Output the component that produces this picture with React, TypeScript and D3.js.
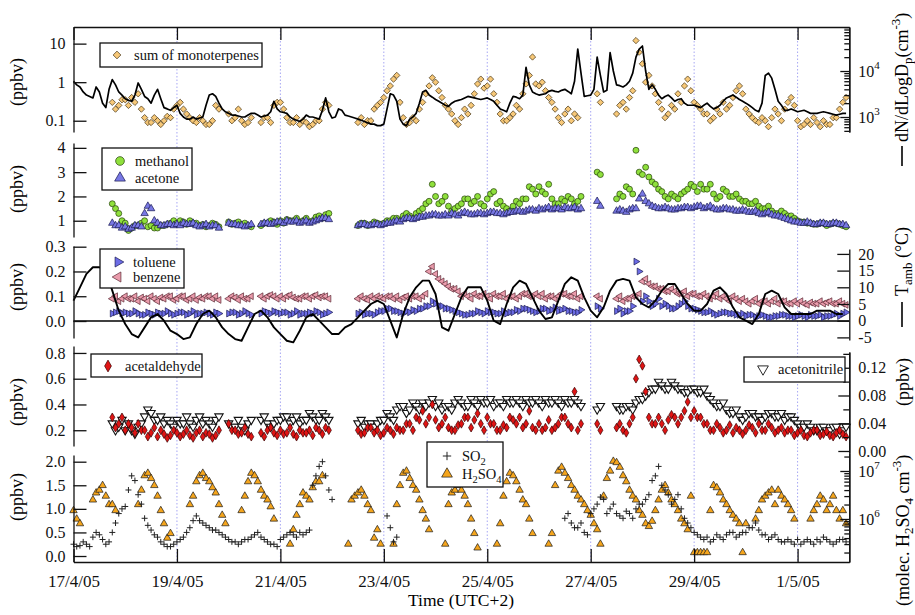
import { useEffect, useRef } from "react";
import * as d3 from "d3";

const N = null;
const FONT = "'Liberation Serif','Times New Roman',Times,serif";

// values every 3 h from 17/4/05 00:00 (rows = days, 8 values per day);
// the "B" arrays are the second reading of each cloud, 1.5 h later
const START = new Date(2005, 3, 17, 0);
const END = new Date(2005, 4, 2, 0);
const STEP_H = 3;

const dateTicks = [
  new Date(2005, 3, 17), new Date(2005, 3, 19), new Date(2005, 3, 21), new Date(2005, 3, 23),
  new Date(2005, 3, 25), new Date(2005, 3, 27), new Date(2005, 3, 29), new Date(2005, 4, 1),
];
const dateLabels = ["17/4/05", "19/4/05", "21/4/05", "23/4/05", "25/4/05", "27/4/05", "29/4/05", "1/5/05"];

// panel 1: sum of monoterpenes (ppbv), particle number dN/dLogDp (cm-3)
const monoterpenes = [
  N, N, N, N, N, N, 0.3, 0.25,
  0.35, 0.4, 0.5, 0.12, 0.09, 0.1, 0.1, 0.12,
  0.25, 0.2, 0.12, 0.09, 0.1, 0.08, 0.25, N,
  0.15, 0.12, 0.1, 0.09, N, 0.09, 0.12, 0.25,
  0.3, 0.12, 0.09, 0.08, 0.09, 0.08, 0.1, 0.3,
  N, N, N, N, 0.09, 0.08, 0.1, 0.25,
  0.4, 0.8, 1.5, 0.12, 0.09, 0.1, 0.3, 0.8,
  1.0, 0.4, 0.2, 0.1, 0.12, 0.15, 0.5, 1.2,
  0.8, 0.5, 0.15, 0.1, 0.15, 0.2, 0.9, 4.5,
  0.8, 0.6, 0.3, 0.12, 0.15, 0.1, 0.12, N,
  N, 0.5, N, N, 0.15, 0.3, 0.4, 12,
  3, 1.5, 0.5, 0.2, 0.15, 0.2, 0.3, 1.2,
  0.3, 0.2, 0.15, 0.12, 0.15, 0.2, 0.4, 0.8,
  0.2, 0.12, 0.09, 0.1, 0.12, 0.15, 0.2, 0.4,
  0.1, 0.08, 0.08, 0.09, 0.1, 0.08, 0.12, 0.3,
];
const monoterpenesB = [
  N, N, N, N, N, N, 0.2, 0.35,
  0.25, 0.3, 0.2, 0.09, 0.12, 0.08, 0.13, 0.2,
  0.3, 0.15, 0.1, 0.12, 0.08, 0.1, 0.2, N,
  0.1, 0.2, 0.08, 0.12, N, 0.12, 0.09, 0.3,
  0.2, 0.09, 0.12, 0.1, 0.07, 0.1, 0.2, 0.25,
  N, N, N, N, 0.12, 0.1, 0.2, 0.3,
  0.6, 1.2, 0.3, 0.08, 0.12, 0.2, 0.5, 1.3,
  0.6, 0.25, 0.15, 0.08, 0.2, 0.25, 0.9, 0.7,
  1.2, 0.3, 0.1, 0.12, 0.25, 0.5, 1.5, 0.9,
  1.0, 0.4, 0.2, 0.09, 0.2, 0.15, N, N,
  N, 0.3, N, N, 0.25, 0.2, 0.6, 6,
  1.0, 0.8, 0.3, 0.12, 0.25, 0.5, 0.8, 0.6,
  0.25, 0.15, 0.1, 0.2, 0.3, 0.25, 0.6, 0.5,
  0.15, 0.1, 0.12, 0.07, 0.2, 0.1, 0.3, 0.25,
  0.07, 0.1, 0.12, 0.07, 0.08, 0.12, 0.2, 0.4,
];
const particles = [
  6000, 4500, 3000, 2600, 3500, 1600, 6500, 3500,
  2500, 2200, 5500, 2800, 2000, 4000, 1600, 1400,
  1800, 1000, 900, 900, 1000, 3000, 2800, 1500,
  1200, 1100, 1000, 1100, 1200, 1000, 1100, 2200,
  1300, 1200, 900, 800, 1100, 1000, 900, 2600,
  950, 1500, 1100, 1000, 900, 800, 700, 650,
  700, 3200, 2200, 700, 900, 1200, 3500, 3000,
  2400, 2000, 1700, 2200, 2400, 2800, 2600, 2400,
  2600, 2200, 1500, 1300, 2800, 2500, 12000, 3500,
  3000, 3200, 3800, 3500, 4000, 3200, 30000, 2800,
  3000, 20000, 3500, 25000, 5000, 4500, 6000, 20000,
  35000, 4000, 4000, 2500, 3000, 2200, 2500, 1800,
  1800, 1600, 2000, 1500, 1800, 2600, 3000, 2400,
  2000, 1600, 1300, 8000, 7000, 2200, 1400, 1500,
  1300, 1400, 1200, 1200, 1300, 1200, 1100, 1200,
];
const particlesB = [
  5000, 3500, 2800, 4500, 2000, 4000, 5000, 3000,
  2300, 3000, 4000, 2500, 3000, 2500, 1500, 1600,
  1200, 900, 1000, 950, 1800, 3200, 2000, 1300,
  1100, 1050, 1000, 1200, 1100, 1050, 1300, 1500,
  1250, 1000, 850, 900, 1000, 950, 1400, 1300,
  1000, 1400, 1050, 950, 850, 750, 700, 650,
  1500, 3000, 900, 650, 1000, 2000, 3800, 2700,
  2200, 1800, 2000, 2300, 2600, 2700, 2500, 2500,
  2400, 1800, 1400, 2000, 2700, 3000, 5000, 3200,
  3100, 3600, 3600, 3800, 3600, 6000, 9000, 2900,
  4000, 8000, 3800, 10000, 4800, 5000, 9000, 30000,
  10000, 5000, 3000, 2800, 2600, 2400, 2000, 1800,
  1700, 1800, 1700, 1600, 2200, 2800, 2700, 2200,
  1800, 1400, 2000, 9000, 4000, 1800, 1400, 1400,
  1350, 1300, 1200, 1250, 1250, 1150, 1150, 1200,
];

// panel 2: methanol, acetone (ppbv)
const methanol = [
  N, N, N, N, N, N, 1.7, 1.3,
  0.9, 0.7, 0.8, 1.0, 0.8, 0.7, 0.8, 0.9,
  0.9, 0.95, 1.0, 0.9, 0.85, 0.8, 0.85, N,
  0.95, 0.9, 0.85, 0.8, N, 0.8, 0.9, 0.95,
  1.0, 1.05, 1.0, 0.95, 1.1, 1.0, 1.2, 1.25,
  N, N, N, N, 0.8, 0.9, 0.85, 0.9,
  0.9, 1.0, 1.1, 1.2, 1.2, 1.3, 1.5, 1.8,
  2.0, 1.8, 1.6, 1.5, 1.7, 1.9, 1.8, 1.7,
  1.9, 2.2, 1.8, 1.5, 1.6, 1.7, 1.9, 2.3,
  2.4, 2.1, 1.9, 1.7, 1.8, 1.9, 1.8, N,
  N, 3.0, N, N, 1.9, 2.0, 2.3, 3.9,
  2.9, 2.8, 2.5, 2.2, 1.9, 2.0, 2.1, 2.3,
  2.4, 2.5, 2.3, 2.1, 2.0, 2.2, 2.0, 1.9,
  1.8, 1.7, 1.6, 1.5, 1.4, 1.3, 1.3, 1.2,
  1.0, 0.95, 0.9, 0.85, 0.9, 0.85, 0.9, 0.8,
];
const methanolB = [
  N, N, N, N, N, N, 1.5, 1.0,
  0.6, 0.8, 0.9, 0.75, 0.7, 0.8, 0.85, 1.0,
  1.0, 0.85, 0.9, 0.8, 0.75, 0.9, 0.75, N,
  0.85, 0.95, 0.9, 0.75, N, 0.9, 1.0, 0.85,
  0.9, 1.0, 1.1, 1.0, 0.95, 1.15, 1.1, 1.3,
  N, N, N, N, 0.9, 0.8, 0.95, 0.85,
  1.0, 1.1, 1.0, 1.3, 1.1, 1.4, 1.7, 2.5,
  1.7, 2.0, 1.4, 1.6, 1.9, 1.7, 2.0, 1.6,
  2.1, 1.7, 1.6, 1.4, 1.8, 1.9, 2.4, 2.1,
  2.2, 2.5, 1.7, 1.9, 2.0, 1.7, 2.0, N,
  N, 2.9, N, N, 2.1, 2.4, 2.1, 3.0,
  3.2, 2.6, 2.3, 2.0, 2.1, 1.9, 2.2, 2.5,
  2.2, 2.3, 2.5, 1.9, 2.3, 2.0, 2.1, 1.8,
  1.7, 1.8, 1.5, 1.6, 1.3, 1.4, 1.2, 1.1,
  0.95, 0.9, 0.85, 0.9, 0.8, 0.9, 0.85, 0.75,
];
const acetone = [
  N, N, N, N, N, N, 0.9, 0.8,
  0.75, 0.7, 0.8, 1.3, 1.5, 0.9, 0.8, 0.85,
  0.85, 0.9, 0.85, 0.8, 0.8, 0.75, 0.8, N,
  0.9, 0.85, 0.8, 0.8, N, 0.85, 0.9, 0.9,
  0.95, 1.0, 0.95, 0.9, 1.0, 0.95, 1.05, 1.1,
  N, N, N, N, 0.8, 0.85, 0.8, 0.85,
  0.85, 0.9, 1.0, 1.05, 1.1, 1.1, 1.15, 1.2,
  1.25, 1.2, 1.2, 1.25, 1.3, 1.3, 1.25, 1.3,
  1.3, 1.35, 1.3, 1.3, 1.35, 1.4, 1.4, 1.45,
  1.5, 1.5, 1.45, 1.5, 1.55, 1.5, 1.45, N,
  N, 1.8, N, N, 1.4, 1.4, 1.45, 1.5,
  2.1, 1.7, 1.55, 1.5, 1.5, 1.45, 1.5, 1.55,
  1.55, 1.6, 1.55, 1.5, 1.45, 1.5, 1.45, 1.4,
  1.4, 1.35, 1.3, 1.3, 1.25, 1.2, 1.1, 1.0,
  0.95, 0.9, 0.9, 0.85, 0.9, 0.85, 0.9, 0.85,
];
const acetoneB = [
  N, N, N, N, N, N, 0.8, 0.7,
  0.65, 0.8, 0.75, 1.6, 1.0, 0.8, 0.85, 0.8,
  0.8, 0.85, 0.9, 0.75, 0.85, 0.8, 0.7, N,
  0.85, 0.8, 0.75, 0.85, N, 0.9, 0.85, 0.95,
  0.9, 0.95, 1.0, 0.95, 0.9, 1.0, 1.1, 1.05,
  N, N, N, N, 0.85, 0.8, 0.85, 0.8,
  0.9, 0.95, 0.95, 1.1, 1.05, 1.15, 1.2, 1.25,
  1.2, 1.25, 1.3, 1.2, 1.35, 1.25, 1.3, 1.25,
  1.35, 1.3, 1.25, 1.35, 1.4, 1.35, 1.45, 1.4,
  1.45, 1.55, 1.5, 1.45, 1.5, 1.55, 1.5, N,
  N, 1.6, N, N, 1.45, 1.35, 1.5, 1.9,
  1.8, 1.6, 1.5, 1.55, 1.45, 1.5, 1.55, 1.5,
  1.6, 1.5, 1.6, 1.45, 1.5, 1.45, 1.4, 1.45,
  1.35, 1.4, 1.25, 1.35, 1.2, 1.15, 1.05, 0.95,
  0.9, 0.95, 0.85, 0.9, 0.85, 0.9, 0.85, 0.8,
];

// panel 3: toluene, benzene (ppbv), ambient temperature (°C)
const toluene = [
  N, N, N, N, N, N, 0.03, 0.04,
  0.035, 0.03, 0.03, 0.025, 0.03, 0.035, 0.03, 0.03,
  0.03, 0.035, 0.03, 0.025, 0.03, 0.03, 0.035, N,
  0.03, 0.035, 0.03, 0.03, N, 0.03, 0.035, 0.04,
  0.03, 0.035, 0.03, 0.025, 0.03, 0.03, 0.035, 0.03,
  N, N, N, N, 0.03, 0.025, 0.03, 0.035,
  0.04, 0.05, 0.04, 0.03, 0.035, 0.04, 0.05, 0.06,
  0.07, 0.06, 0.05, 0.04, 0.03, 0.025, 0.03, 0.035,
  0.04, 0.035, 0.03, 0.03, 0.035, 0.04, 0.05, 0.04,
  0.04, 0.05, 0.045, 0.04, 0.05, 0.04, 0.035, N,
  N, 0.06, N, N, 0.04, 0.03, 0.04, 0.24,
  0.08, 0.08, 0.07, 0.06, 0.06, 0.05, 0.07, 0.06,
  0.05, 0.04, 0.035, 0.03, 0.03, 0.035, 0.03, 0.025,
  0.02, 0.025, 0.02, 0.02, 0.015, 0.02, 0.025, 0.02,
  0.02, 0.02, 0.025, 0.02, 0.015, 0.02, 0.03, 0.03,
];
const tolueneB = [
  N, N, N, N, N, N, 0.035, 0.03,
  0.03, 0.04, 0.025, 0.035, 0.025, 0.03, 0.04, 0.025,
  0.035, 0.025, 0.04, 0.03, 0.035, 0.025, 0.03, N,
  0.035, 0.025, 0.04, 0.025, N, 0.04, 0.03, 0.035,
  0.035, 0.025, 0.04, 0.03, 0.035, 0.04, 0.025, 0.035,
  N, N, N, N, 0.035, 0.03, 0.025, 0.04,
  0.05, 0.04, 0.035, 0.04, 0.045, 0.05, 0.06, 0.08,
  0.06, 0.05, 0.045, 0.035, 0.025, 0.03, 0.04, 0.03,
  0.035, 0.03, 0.04, 0.035, 0.045, 0.05, 0.045, 0.035,
  0.05, 0.04, 0.055, 0.045, 0.04, 0.035, 0.045, N,
  N, 0.05, N, N, 0.05, 0.04, 0.06, 0.2,
  0.1, 0.06, 0.09, 0.07, 0.05, 0.06, 0.08, 0.05,
  0.045, 0.035, 0.04, 0.025, 0.035, 0.03, 0.025, 0.03,
  0.025, 0.015, 0.025, 0.015, 0.02, 0.025, 0.02, 0.015,
  0.025, 0.015, 0.02, 0.025, 0.02, 0.025, 0.02, 0.035,
];
const benzene = [
  N, N, N, N, N, N, 0.09, 0.08,
  0.1, 0.09, 0.08, 0.09, 0.1, 0.08, 0.09, 0.1,
  0.09, 0.1, 0.09, 0.085, 0.09, 0.1, 0.1, N,
  0.09, 0.095, 0.1, 0.09, N, 0.1, 0.1, 0.1,
  0.1, 0.1, 0.095, 0.09, 0.1, 0.1, 0.095, 0.1,
  N, N, N, N, 0.09, 0.09, 0.1, 0.1,
  0.09, 0.1, 0.1, 0.095, 0.09, 0.1, 0.1, 0.2,
  0.19, 0.16, 0.14, 0.13, 0.1, 0.1, 0.11, 0.1,
  0.1, 0.11, 0.1, 0.09, 0.1, 0.1, 0.11, 0.1,
  0.1, 0.09, 0.1, 0.1, 0.11, 0.1, 0.09, N,
  N, 0.1, N, N, 0.09, 0.08, 0.09, 0.1,
  0.16, 0.15, 0.14, 0.13, 0.12, 0.12, 0.11, 0.1,
  0.11, 0.1, 0.1, 0.1, 0.09, 0.09, 0.1, 0.08,
  0.08, 0.08, 0.07, 0.08, 0.08, 0.07, 0.08, 0.07,
  0.07, 0.07, 0.075, 0.07, 0.07, 0.08, 0.07, 0.07,
];
const benzeneB = [
  N, N, N, N, N, N, 0.1, 0.09,
  0.09, 0.1, 0.095, 0.08, 0.09, 0.095, 0.1, 0.085,
  0.1, 0.085, 0.1, 0.095, 0.1, 0.09, 0.085, N,
  0.1, 0.085, 0.09, 0.1, N, 0.09, 0.105, 0.09,
  0.09, 0.105, 0.09, 0.1, 0.09, 0.105, 0.1, 0.09,
  N, N, N, N, 0.1, 0.085, 0.09, 0.095,
  0.1, 0.09, 0.085, 0.1, 0.1, 0.09, 0.11, 0.22,
  0.17, 0.15, 0.13, 0.12, 0.11, 0.09, 0.1, 0.11,
  0.09, 0.1, 0.11, 0.1, 0.09, 0.11, 0.1, 0.11,
  0.11, 0.1, 0.09, 0.11, 0.1, 0.11, 0.1, N,
  N, 0.09, N, N, 0.1, 0.09, 0.1, 0.11,
  0.17, 0.14, 0.13, 0.12, 0.13, 0.11, 0.12, 0.11,
  0.1, 0.11, 0.09, 0.11, 0.1, 0.08, 0.09, 0.09,
  0.07, 0.09, 0.08, 0.07, 0.09, 0.08, 0.07, 0.08,
  0.08, 0.065, 0.07, 0.08, 0.075, 0.07, 0.08, 0.065,
];
const tAmb = [
  6, 10, 14, 16, 16, 15, 9, 3,
  -1, -4, -5, -2, 1, 2, 0, -3,
  -4, -5.5, -5, -1, 2, 3, 1, -2,
  -4, -5.5, -6, -2, 2, 3, 1, -2,
  -4, -6, -6.5, -3, 1, 2, 0, -2,
  -4, -4, -2, -1, 1, 3, 5, 6,
  5, 0, -5, 2, 7, 10, 12, 12,
  8, -2, -3, 2, 7, 10, 10, 10,
  6, 0, -1, 5, 10, 12, 11, 7,
  3, 0.5, 1, 6, 11, 13, 12, 7,
  3, 1, 4, 9, 12, 12.5, 12, 7,
  5, 4, 6, 9, 11, 11, 8, 5,
  3, 3, 5, 9, 10, 8, 4, 1,
  0, -1, 2, 8, 9, 8, 4, 2,
  2, 2, 2, 3, 3, 3, 2, 2,
];

// panel 4: acetaldehyde (ppbv, left), acetonitrile (ppbv, right)
const acetaldehyde = [
  N, N, N, N, N, N, 0.3, 0.25,
  0.2, 0.22, 0.25, 0.2, 0.18, 0.15, 0.17, 0.16,
  0.18, 0.17, 0.16, 0.18, 0.15, 0.17, 0.16, N,
  0.25, 0.2, 0.18, 0.17, N, 0.18, 0.2, 0.18,
  0.2, 0.18, 0.17, 0.2, 0.18, 0.16, 0.2, 0.22,
  N, N, N, N, 0.2, 0.18, 0.22, 0.2,
  0.18, 0.2, 0.22, 0.2, 0.25, 0.3, 0.35, 0.3,
  0.28, 0.25, 0.22, 0.2, 0.25, 0.3, 0.28, 0.25,
  0.3, 0.25, 0.2, 0.22, 0.28, 0.3, 0.25, 0.22,
  0.25, 0.22, 0.2, 0.25, 0.3, 0.22, 0.2, N,
  N, 0.25, N, N, 0.22, 0.2, 0.25, 0.6,
  0.7, 0.3, 0.25, 0.25, 0.28, 0.3, 0.3, 0.42,
  0.35, 0.3, 0.25, 0.2, 0.22, 0.2, 0.18, 0.2,
  0.2, 0.22, 0.25, 0.2, 0.22, 0.2, 0.18, 0.2,
  0.18, 0.16, 0.18, 0.2, 0.17, 0.16, 0.18, 0.17,
];
const acetaldehydeB = [
  N, N, N, N, N, N, 0.22, 0.3,
  0.25, 0.18, 0.2, 0.15, 0.22, 0.2, 0.14, 0.2,
  0.15, 0.2, 0.14, 0.2, 0.18, 0.14, 0.2, N,
  0.2, 0.17, 0.22, 0.15, N, 0.15, 0.22, 0.16,
  0.17, 0.22, 0.15, 0.18, 0.2, 0.22, 0.17, 0.2,
  N, N, N, N, 0.17, 0.22, 0.18, 0.16,
  0.22, 0.17, 0.2, 0.25, 0.2, 0.28, 0.25, 0.4,
  0.22, 0.3, 0.2, 0.24, 0.3, 0.22, 0.33, 0.2,
  0.25, 0.2, 0.24, 0.3, 0.25, 0.22, 0.35, 0.2,
  0.2, 0.28, 0.22, 0.3, 0.25, 0.5, 0.25, N,
  N, 0.2, N, N, 0.25, 0.18, 0.3, 0.75,
  0.5, 0.25, 0.3, 0.2, 0.32, 0.25, 0.35, 0.3,
  0.3, 0.25, 0.2, 0.25, 0.18, 0.24, 0.22, 0.17,
  0.24, 0.18, 0.2, 0.25, 0.18, 0.22, 0.2, 0.16,
  0.2, 0.15, 0.2, 0.16, 0.19, 0.15, 0.2, 0.15,
];
const acetonitrile = [
  N, N, N, N, N, N, 0.04, 0.035,
  0.03, 0.03, 0.035, 0.05, 0.055, 0.045, 0.04, 0.04,
  0.045, 0.04, 0.04, 0.045, 0.04, 0.04, 0.045, N,
  0.04, 0.035, 0.035, 0.04, N, 0.045, 0.04, 0.04,
  0.045, 0.05, 0.045, 0.04, 0.045, 0.05, 0.045, 0.05,
  N, N, N, N, 0.04, 0.035, 0.04, 0.04,
  0.045, 0.05, 0.06, 0.065, 0.06, 0.065, 0.07, 0.07,
  0.065, 0.06, 0.065, 0.07, 0.07, 0.065, 0.07, 0.075,
  0.07, 0.065, 0.07, 0.075, 0.07, 0.07, 0.075, 0.07,
  0.07, 0.075, 0.07, 0.07, 0.075, 0.07, 0.07, N,
  N, 0.06, N, N, 0.065, 0.06, 0.065, 0.07,
  0.075, 0.085, 0.09, 0.095, 0.09, 0.095, 0.09, 0.085,
  0.09, 0.085, 0.08, 0.07, 0.065, 0.06, 0.055, 0.05,
  0.05, 0.055, 0.05, 0.05, 0.055, 0.05, 0.045, 0.05,
  0.04, 0.035, 0.035, 0.03, 0.035, 0.03, 0.035, 0.03,
];
const acetonitrileB = [
  N, N, N, N, N, N, 0.03, 0.045,
  0.04, 0.025, 0.04, 0.06, 0.045, 0.05, 0.045, 0.035,
  0.04, 0.05, 0.035, 0.05, 0.045, 0.035, 0.05, N,
  0.035, 0.045, 0.03, 0.045, N, 0.05, 0.035, 0.045,
  0.05, 0.04, 0.05, 0.045, 0.055, 0.045, 0.055, 0.045,
  N, N, N, N, 0.045, 0.04, 0.035, 0.045,
  0.055, 0.045, 0.065, 0.055, 0.07, 0.06, 0.065, 0.075,
  0.07, 0.065, 0.06, 0.075, 0.065, 0.075, 0.065, 0.07,
  0.075, 0.07, 0.065, 0.07, 0.075, 0.065, 0.07, 0.075,
  0.065, 0.07, 0.075, 0.065, 0.07, 0.075, 0.065, N,
  N, 0.065, N, N, 0.06, 0.065, 0.06, 0.075,
  0.08, 0.09, 0.1, 0.09, 0.1, 0.09, 0.085, 0.09,
  0.085, 0.09, 0.075, 0.065, 0.07, 0.055, 0.06, 0.045,
  0.055, 0.05, 0.045, 0.055, 0.05, 0.055, 0.05, 0.045,
  0.035, 0.04, 0.03, 0.035, 0.03, 0.035, 0.025, 0.035,
];

// panel 5: SO2 (ppbv, left), H2SO4 (molec cm-3, right)
const so2 = [
  0.25, 0.22, 0.25, 0.4, 0.45, 0.25, 0.5, 0.9,
  1.05, 1.7, 1.3, 0.8, 0.55, 0.4, 0.25, 0.2,
  0.3, 0.4, 0.6, 0.85, 0.7, 0.6, 0.55, 0.45,
  0.35, 0.3, 0.3, 0.35, 0.45, 0.4, 0.3, 0.25,
  0.35, 0.45, 0.45, 0.5, 0.5, 1.5, 1.9, 1.7,
  1.2, N, N, N, N, N, N, N,
  N, 0.6, 0.4, N, N, N, N, N,
  N, N, N, N, N, N, N, N,
  N, N, N, N, N, N, N, N,
  N, N, N, N, 0.8, 0.7, 0.6, 0.5,
  0.9, 1.1, 1.2, 1.0, 0.9, 0.8, 0.9, 1.0,
  1.1, 1.3, 1.7, 1.5, 1.3, 1.2, 1.0, 0.7,
  0.5, 0.4, 0.4, 0.35, 0.4, 0.45, 0.5, 0.45,
  0.5, 0.6, 0.55, 0.45, 0.4, 0.35, 0.3, 0.3,
  0.35, 0.3, 0.3, 0.35, 0.4, 0.3, 0.3, 0.35,
];
const so2B = [
  0.2, 0.3, 0.2, 0.5, 0.35, 0.3, 0.7, 1.0,
  1.4, 1.6, 1.1, 0.65, 0.45, 0.3, 0.2, 0.25,
  0.35, 0.5, 0.75, 0.75, 0.65, 0.55, 0.5, 0.4,
  0.3, 0.25, 0.35, 0.4, 0.5, 0.35, 0.25, 0.2,
  0.4, 0.5, 0.4, 0.45, 0.55, 1.7, 2.0, 1.4,
  N, N, N, N, N, N, N, N,
  0.85, 0.3, N, N, N, N, N, N,
  N, N, N, N, N, N, N, N,
  N, N, N, N, N, N, N, N,
  N, N, N, N, 0.9, 0.6, 0.7, 0.45,
  1.0, 1.25, 0.9, 1.1, 0.85, 0.95, 0.8, 1.1,
  1.2, 1.6, 1.9, 1.4, 1.1, 1.3, 0.8, 0.6,
  0.45, 0.35, 0.3, 0.45, 0.35, 0.5, 0.4, 0.5,
  0.6, 0.7, 0.45, 0.35, 0.45, 0.3, 0.35, 0.25,
  0.25, 0.35, 0.25, 0.3, 0.35, 0.25, 0.35, 0.3,
];
const h2so4 = [
  1.5e6, 0.8e6, N, 2.5e6, 4e6, 3e6, 2e6, N,
  N, N, 2e6, 8e6, 7e6, 3e6, 0.8e6, 0.5e6,
  N, N, 2e6, 6e6, 9e6, 6e6, 3.5e6, 1.2e6,
  N, N, 1.5e6, 6e6, 8e6, 4e6, 2.5e6, 1e6,
  N, N, 0.6e6, 2e6, 3e6, 4.5e6, 6e6, N,
  N, N, N, 2.5e6, 3.5e6, 3e6, 1.5e6, 0.6e6,
  N, N, 2e6, 9e6, 7e6, 4e6, 1.5e6, 0.6e6,
  N, N, 2e6, 4e6, 4e6, 2e6, 0.5e6, N,
  N, N, 0.8e6, 6e6, 8e6, 4e6, 2e6, 0.5e6,
  N, N, 0.5e6, 10e6, 9e6, 5e6, 3e6, 2e6,
  1.2e6, 0.6e6, 3e6, 10e6, 15e6, 8e6, 4e6, 2.5e6,
  1.2e6, 0.7e6, 1.5e6, 4e6, 3.5e6, 2e6, 1e6, 0.6e6,
  0.2e6, 0.2e6, 0.2e6, 5e6, 3.5e6, 2e6, 1.2e6, 0.8e6,
  0.8e6, N, 1.5e6, 3e6, 4e6, 4e6, 2.5e6, 1.5e6,
  N, N, 1e6, 2e6, 2.5e6, 2e6, 1.5e6, 1.5e6,
];
const h2so4B = [
  1.0e6, N, N, 3.5e6, 5e6, 2e6, 1.5e6, N,
  N, N, 4e6, 9e6, 5e6, 1.5e6, 0.4e6, N,
  N, N, 3e6, 8e6, 7e6, 4.5e6, 2e6, 0.8e6,
  N, N, 3e6, 9e6, 6e6, 3e6, 1.8e6, N,
  N, 0.3e6, 1.2e6, 3.5e6, 2.5e6, 6e6, 8e6, N,
  N, N, 0.3e6, 3e6, 4e6, 2e6, 0.4e6, 0.3e6,
  N, 0.3e6, 5e6, 10e6, 5e6, 2.5e6, 1e6, N,
  N, 0.3e6, 3.5e6, 5e6, 3e6, 1e6, 0.25e6, N,
  N, 0.3e6, 3e6, 9e6, 6e6, 2.5e6, 1e6, N,
  N, 0.3e6, 5e6, 12e6, 7e6, 4e6, 2.5e6, 1.5e6,
  0.8e6, 0.3e6, 7e6, 16e6, 12e6, 6e6, 3e6, 1.5e6,
  0.8e6, 0.9e6, 2.5e6, 5e6, 2.5e6, 1.5e6, 0.8e6, 3e6,
  0.2e6, 0.2e6, 1.5e6, 4.5e6, 2.5e6, 1.5e6, 1e6, 0.2e6,
  N, 1e6, 2.5e6, 3.5e6, 2e6, 3e6, 2e6, 1e6,
  N, N, 1.5e6, 3e6, 1.5e6, 3e6, 1e6, 0.8e6,
];

const plusSymbol = {
  draw(ctx: any, size: number) {
    const r = Math.sqrt(size) / 2;
    ctx.moveTo(-r, 0); ctx.lineTo(r, 0);
    ctx.moveTo(0, -r); ctx.lineTo(0, r);
  },
};

type Pt = { t: Date; v: number };

export default function App() {
  const svgRef = useRef<SVGSVGElement>(null);

  useEffect(() => {
    const width = 915;
    const height = 615;
    const X0 = 73.5;
    const X1 = 849.3;

    const svg = d3.select(svgRef.current)
      .attr("width", width)
      .attr("height", height)
      .style("background", "#fff")
      .style("font-family", FONT);
    svg.selectAll("*").remove();

    const x = d3.scaleTime().domain([START, END]).range([X0, X1]);
    const series = (vals: (number | null)[], offsetMin = 0): Pt[] =>
      vals
        .map((v, i) => ({ t: d3.timeMinute.offset(START, i * STEP_H * 60 + offsetMin), v }))
        .filter((d) => d.v !== null) as Pt[];
    const both = (a: (number | null)[], b: (number | null)[]) =>
      series(a).concat(series(b, 90)).sort((p, q) => +p.t - +q.t);

    // scales
    const y1 = d3.scaleLog().domain([0.051, 27]).range([132, 27]);
    const y1r = d3.scaleLog().domain([472, 90600]).range([132, 27]);
    const y2 = d3.scaleLinear().domain([0.33, 4.2]).range([237, 143]);
    const y3 = d3.scaleLinear().domain([-0.0686, 0.3028]).range([338, 246]);
    const y3r = d3.scaleLinear().domain([-5.78, 21.47]).range([340, 249]);
    const y4 = d3.scaleLinear().domain([0.0776, 0.854]).range([446, 346]);
    const y4r = d3.scaleLinear().domain([-0.0029, 0.1427]).range([453, 352]);
    const y5 = d3.scaleLinear().domain([-0.127, 2.142]).range([562, 455]);
    const y5r = d3.scaleLog().domain([1.27e5, 2.37e7]).range([562, 453]);

    const axisStyle = (g: any, fs: number) => {
      g.attr("font-family", FONT).attr("font-size", fs);
      g.selectAll("path, line").attr("stroke", "#111").attr("stroke-width", 1.3);
      g.selectAll("text").attr("fill", "#111");
    };

    // vertical dotted day lines
    svg.append("g")
      .selectAll("line")
      .data(dateTicks.slice(1))
      .enter()
      .append("line")
      .attr("x1", (d) => x(d))
      .attr("x2", (d) => x(d))
      .attr("y1", 27)
      .attr("y2", 562)
      .attr("stroke", "#9c9cf2")
      .attr("stroke-width", 0.9)
      .attr("stroke-dasharray", "1.5,2");

    const markers = (data: Pt[], y: any, type: any, size: number,
      fill: string, stroke: string, rot = 0, sw = 0.7) => {
      const sym = d3.symbol().type(type).size(size);
      svg.append("g")
        .selectAll("path")
        .data(data)
        .enter()
        .append("path")
        .attr("d", sym as any)
        .attr("transform", (d) => `translate(${x(d.t)},${y(d.v)}) rotate(${rot})`)
        .attr("fill", fill)
        .attr("stroke", stroke)
        .attr("stroke-width", sw);
    };

    const lineOf = (data: Pt[], y: any, w: number) => {
      svg.append("path")
        .datum(data)
        .attr("fill", "none")
        .attr("stroke", "#000")
        .attr("stroke-width", w)
        .attr("stroke-linejoin", "round")
        .attr("d", d3.line<Pt>().x((d) => x(d.t)).y((d) => y(d.v)));
    };

    // panel 1
    markers(both(monoterpenes, monoterpenesB), y1, d3.symbolSquare, 20, "#f7c878", "#4a3818", 45);
    lineOf(both(particles, particlesB), y1r, 1.7);

    // panel 2
    markers(both(methanol, methanolB), y2, d3.symbolCircle, 28, "#8fe03c", "#243f0a");
    markers(both(acetone, acetoneB), y2, d3.symbolTriangle, 24, "#7878e4", "#181850");

    // panel 3
    svg.append("line")
      .attr("x1", X0).attr("x2", X1)
      .attr("y1", y3(0)).attr("y2", y3(0))
      .attr("stroke", "#000").attr("stroke-width", 1.3);
    markers(both(benzene, benzeneB), y3, d3.symbolTriangle, 20, "#ea9cac", "#5a2632", -90);
    markers(both(toluene, tolueneB), y3, d3.symbolTriangle, 20, "#6c6ce6", "#181850", 90);
    lineOf(series(tAmb), y3r, 1.9);

    // panel 4
    markers(both(acetonitrile, acetonitrileB), y4r, d3.symbolTriangle, 30, "#fff", "#111", 180, 1.1);
    markers(both(acetaldehyde, acetaldehydeB), y4, d3.symbolDiamond, 22, "#e01414", "#3a0000");

    // panel 5
    markers(both(h2so4, h2so4B), y5r, d3.symbolTriangle, 24, "#f5a51c", "#1a1a1a");
    markers(both(so2, so2B), y5, plusSymbol, 36, "none", "#222", 0, 1);

    // frame: top and bottom with inward ticks
    svg.append("g")
      .attr("transform", "translate(0,27)")
      .call(d3.axisTop(x).tickValues(dateTicks).tickFormat(() => "").tickSizeInner(-13).tickSizeOuter(0))
      .call((g) => axisStyle(g, 17));
    svg.append("g")
      .attr("transform", "translate(0,562)")
      .call(d3.axisBottom(x).tickValues(dateTicks).tickFormat((d, i) => dateLabels[i]).tickSizeInner(-13).tickSizeOuter(0).tickPadding(13))
      .call((g) => axisStyle(g, 17));

    // left axes
    const leftAxis = (y: any, ticks: number[], fmt: (d: any) => string) => {
      svg.append("g")
        .attr("transform", `translate(${X0},0)`)
        .call(d3.axisLeft(y).tickValues(ticks).tickFormat(fmt).tickSizeInner(-13).tickSizeOuter(0).tickPadding(8))
        .call((g) => axisStyle(g, 16));
    };
    leftAxis(y1, [0.1, 1, 10], (d) => String(d));
    leftAxis(y2, [1, 2, 3, 4], (d) => String(d));
    leftAxis(y3, [0, 0.1, 0.2, 0.3], d3.format(".1f"));
    leftAxis(y4, [0.2, 0.4, 0.6, 0.8], d3.format(".1f"));
    leftAxis(y5, [0, 0.5, 1, 1.5, 2], d3.format(".1f"));

    // right axes
    const rightAxis = (y: any, ticks: number[], fmt: (d: any) => string, size: number) => {
      svg.append("g")
        .attr("transform", `translate(${X1},0)`)
        .call(d3.axisRight(y).tickValues(ticks).tickFormat(fmt).tickSizeInner(-size).tickSizeOuter(0).tickPadding(9))
        .call((g) => axisStyle(g, 16));
    };
    const isPow10 = (v: number) => Math.abs(Math.log10(v) - Math.round(Math.log10(v))) < 1e-6;
    const powLabels = (y: any, vals: number[]) => {
      vals.forEach((v) => {
        const t = svg.append("text")
          .attr("x", X1 + 9)
          .attr("y", y(v) + 6)
          .attr("font-size", 16)
          .attr("fill", "#111");
        t.append("tspan").text("10");
        t.append("tspan").attr("dy", -8).attr("font-size", 11).text(String(Math.round(Math.log10(v))));
      });
    };

    rightAxis(y1r, y1r.ticks().filter((v) => !isPow10(v)), () => "", 5);
    rightAxis(y1r, [1e3, 1e4], () => "", 9);
    powLabels(y1r, [1e3, 1e4]);

    rightAxis(y3r, [-5, 0, 5, 10, 15, 20], (d) => String(d), 12);

    rightAxis(y4r, [0.02, 0.06, 0.1, 0.14], () => "", 6);
    rightAxis(y4r, [0, 0.04, 0.08, 0.12], d3.format(".2f"), 11);

    rightAxis(y5r, y5r.ticks().filter((v) => !isPow10(v)), () => "", 5);
    rightAxis(y5r, [1e6, 1e7], () => "", 9);
    powLabels(y5r, [1e6, 1e7]);

    // left axis titles
    [82, 189, 287, 402, 497].forEach((cy) => {
      svg.append("text")
        .attr("transform", `translate(23,${cy}) rotate(-90)`)
        .attr("text-anchor", "middle")
        .attr("font-size", 18)
        .text("(ppbv)");
    });

    // right axis titles
    const dash = (xx: number, ya: number, yb: number) =>
      svg.append("line").attr("x1", xx).attr("x2", xx).attr("y1", ya).attr("y2", yb)
        .attr("stroke", "#000").attr("stroke-width", 1.6);

    const t1 = svg.append("text").attr("transform", "translate(908,142) rotate(-90)").attr("font-size", 18);
    t1.append("tspan").text("dN/dLogD");
    t1.append("tspan").attr("dy", 4).attr("font-size", 13).text("p");
    t1.append("tspan").attr("dy", -4).text("(cm");
    t1.append("tspan").attr("dy", -8).attr("font-size", 13).text("-3");
    t1.append("tspan").attr("dy", 8).text(")");
    dash(902, 146, 166);

    const t2 = svg.append("text").attr("transform", "translate(908,296) rotate(-90)").attr("font-size", 18);
    t2.append("tspan").text("T");
    t2.append("tspan").attr("dy", 4).attr("font-size", 13).text("amb");
    t2.append("tspan").attr("dy", -4).text(" (°C)");
    dash(902, 302, 327);

    svg.append("text")
      .attr("transform", "translate(909,382) rotate(-90)")
      .attr("text-anchor", "middle")
      .attr("font-size", 18)
      .text("(ppbv)");

    const t4 = svg.append("text").attr("transform", "translate(909,606) rotate(-90)").attr("font-size", 18);
    t4.append("tspan").text("(molec. H");
    t4.append("tspan").attr("dy", 4).attr("font-size", 13).text("2");
    t4.append("tspan").attr("dy", -4).text("SO");
    t4.append("tspan").attr("dy", 4).attr("font-size", 13).text("4");
    t4.append("tspan").attr("dy", -4).text(" cm");
    t4.append("tspan").attr("dy", -8).attr("font-size", 13).text("-3");
    t4.append("tspan").attr("dy", 8).text(")");

    // x title
    svg.append("text")
      .attr("x", 461)
      .attr("y", 606)
      .attr("text-anchor", "middle")
      .attr("font-size", 17.5)
      .text("Time (UTC+2)");

    // legends
    const box = (x0: number, y0: number, w: number, h: number) =>
      svg.append("rect").attr("x", x0).attr("y", y0).attr("width", w).attr("height", h)
        .attr("fill", "#fff").attr("stroke", "#111").attr("stroke-width", 1.3);
    const legMark = (mx: number, my: number, type: any, size: number, fill: string, stroke: string, rot = 0, sw = 0.7) =>
      svg.append("path")
        .attr("d", d3.symbol().type(type).size(size) as any)
        .attr("transform", `translate(${mx},${my}) rotate(${rot})`)
        .attr("fill", fill).attr("stroke", stroke).attr("stroke-width", sw);
    const legText = (tx: number, ty: number, parts: [string, boolean][]) => {
      const t = svg.append("text").attr("x", tx).attr("y", ty + 5).attr("font-size", 14.5).attr("fill", "#111");
      let sub = false;
      parts.forEach(([s, isSub]) => {
        const sp = t.append("tspan").text(s);
        if (isSub) sp.attr("font-size", 10.5);
        if (isSub && !sub) sp.attr("dy", 4);
        if (!isSub && sub) sp.attr("dy", -4);
        sub = isSub;
      });
    };

    box(100, 43, 162, 24);
    legMark(117, 55, d3.symbolSquare, 30, "#f7c878", "#4a3818", 45);
    legText(134, 55, [["sum of monoterpenes", false]]);

    box(102, 148, 90, 42);
    legMark(120, 161, d3.symbolCircle, 60, "#8fe03c", "#243f0a");
    legMark(120, 178, d3.symbolTriangle, 50, "#7878e4", "#181850");
    legText(135, 161, [["methanol", false]]);
    legText(135, 178, [["acetone", false]]);

    box(100, 249, 84, 39);
    legMark(118, 262, d3.symbolTriangle, 44, "#6c6ce6", "#181850", 90);
    legMark(118, 277, d3.symbolTriangle, 44, "#ea9cac", "#5a2632", -90);
    legText(133, 262, [["toluene", false]]);
    legText(133, 277, [["benzene", false]]);

    box(91, 354, 111, 23);
    legMark(108, 366, d3.symbolDiamond, 40, "#e01414", "#3a0000");
    legText(125, 366, [["acetaldehyde", false]]);

    box(744, 357, 101, 25);
    legMark(763, 369, d3.symbolTriangle, 50, "#fff", "#111", 180, 0.9);
    legText(778, 369, [["acetonitrile", false]]);

    box(427, 442, 76, 45);
    legMark(447, 456, plusSymbol, 70, "none", "#222", 0, 1);
    legMark(447, 474, d3.symbolTriangle, 50, "#f5a51c", "#1a1a1a");
    legText(462, 456, [["SO", false], ["2", true]]);
    legText(462, 474, [["H", false], ["2", true], ["SO", false], ["4", true]]);
  }, []);

  return <svg ref={svgRef} style={{ position: "absolute", left: 0, top: 0 }}></svg>;
}
